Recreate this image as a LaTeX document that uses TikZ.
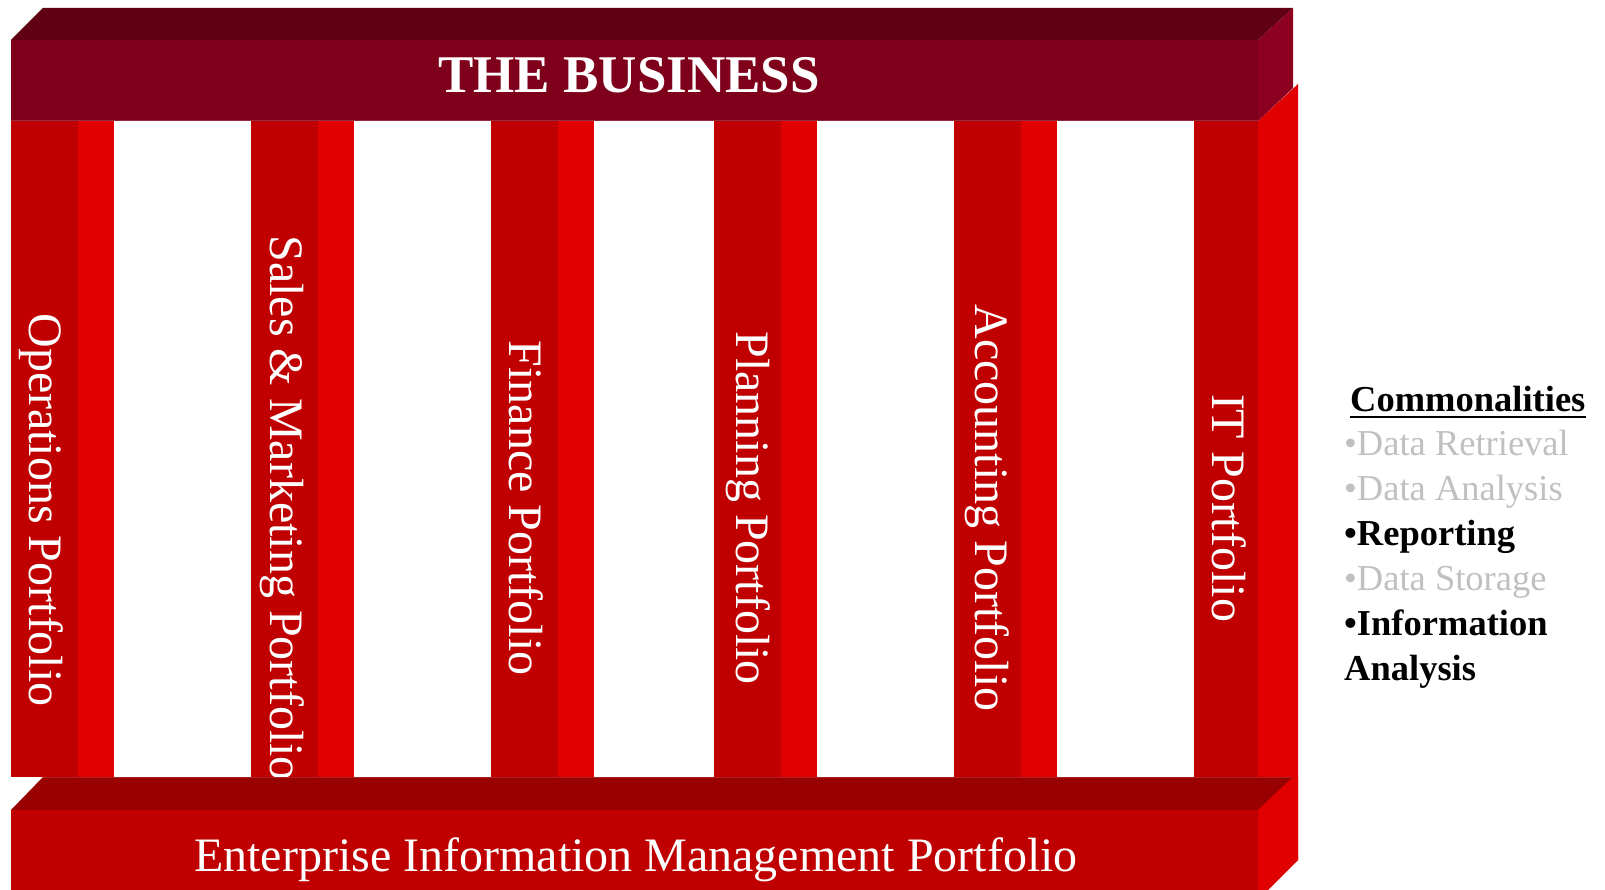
\documentclass[tikz,border=0pt]{standalone}
\usepackage{fontspec}
\setmainfont{Liberation Serif}
\definecolor{beamtop}{HTML}{600015}
\definecolor{beamfront}{HTML}{7E001A}
\definecolor{beamside}{HTML}{8C0020}
\definecolor{beamedge}{HTML}{962A40}
\definecolor{pillardark}{HTML}{C00000}
\definecolor{pillarlight}{HTML}{E00000}
\definecolor{basetop}{HTML}{990000}
\definecolor{baseedge}{HTML}{A82020}
\definecolor{fadedgray}{HTML}{C0C0C0}
\begin{document}
\begin{tikzpicture}[x=1pt,y=-1pt,
  pillartext/.style={text=white, rotate=-90, inner sep=0pt,
    font=\fontsize{48}{48}\selectfont},
  listitem/.style={anchor=base west, inner sep=0pt,
    font=\fontsize{36.5}{44}\selectfont},
  fadeditem/.style={listitem, text=fadedgray},
  keyitem/.style={listitem, text=black, font=\fontsize{36.5}{44}\selectfont\bfseries}]
\useasboundingbox (0,0) rectangle (1605,890);

% pillars: dark front face and lighter side face
\foreach \px in {11,251,491,714,954}{
  \fill[pillardark] (\px,121) rectangle ++(67,656);
  \fill[pillarlight] (\px+67,121) rectangle ++(36,656);
}
% the last pillar sits on the right edge, its side face recedes
\fill[pillardark] (1194,121) rectangle (1261,777);
\fill[pillarlight] (1258,121) -- (1298,84) -- (1298,860) -- (1258,893) -- cycle;

% pillar labels
\node[pillartext] (ops)   at (41,510)  {Operations Portfolio};
\node[pillartext] (sales) at (282,508) {Sales \& Marketing Portfolio};
\node[pillartext] (fin)   at (526,508) {Finance Portfolio};
\node[pillartext] (plan)  at (748,508) {Planning Portfolio};
\node[pillartext] (acct)  at (987,508) {Accounting Portfolio};
\node[pillartext] (it)    at (1229,508) {IT Portfolio};

% base beam
\fill[basetop] (11,810) -- (43,777) -- (1293,777) -- (1258,810) -- cycle;
\draw[baseedge, line width=1pt] (43,777.5) -- (1293,777.5);
\fill[pillardark] (11,810) rectangle (1258,893);
\fill[pillarlight] (1258,810) -- (1293,777) -- (1298,777) -- (1298,860) -- (1265,893) -- (1258,893) -- cycle;
\node[text=white, anchor=base, inner sep=0pt, font=\fontsize{48}{48}\selectfont]
  (eim) at (636,871) {Enterprise Information Management Portfolio};

% top beam
\fill[beamtop] (11,40) -- (43,8) -- (1293,8) -- (1258,40) -- cycle;
\fill[beamfront] (11,40) rectangle (1258,121);
\fill[beamside] (1258,40) -- (1293,8) -- (1293,88) -- (1258,121) -- cycle;
\draw[beamedge, line width=1pt] (11,120.5) -- (1258,120.5);
\node[text=white, anchor=base, inner sep=0pt, font=\fontsize{53}{53}\selectfont\bfseries]
  (business) at (629,93) {THE BUSINESS};

% commonalities list
\node[keyitem] (common) at (1350,411) {Commonalities};
\draw[black, line width=2.6pt] ([yshift=-6pt]common.base west) -- ([yshift=-6pt]common.base east);
\node[fadeditem] (l1) at (1344,455) {•Data Retrieval};
\node[fadeditem] (l2) at (1344,500) {•Data Analysis};
\node[keyitem]   (l3) at (1344,545) {•Reporting};
\node[fadeditem] (l4) at (1344,590) {•Data Storage};
\node[keyitem]   (l5) at (1344,635) {•Information};
\node[keyitem]   (l6) at (1344,680) {Analysis};
\end{tikzpicture}
\end{document}
